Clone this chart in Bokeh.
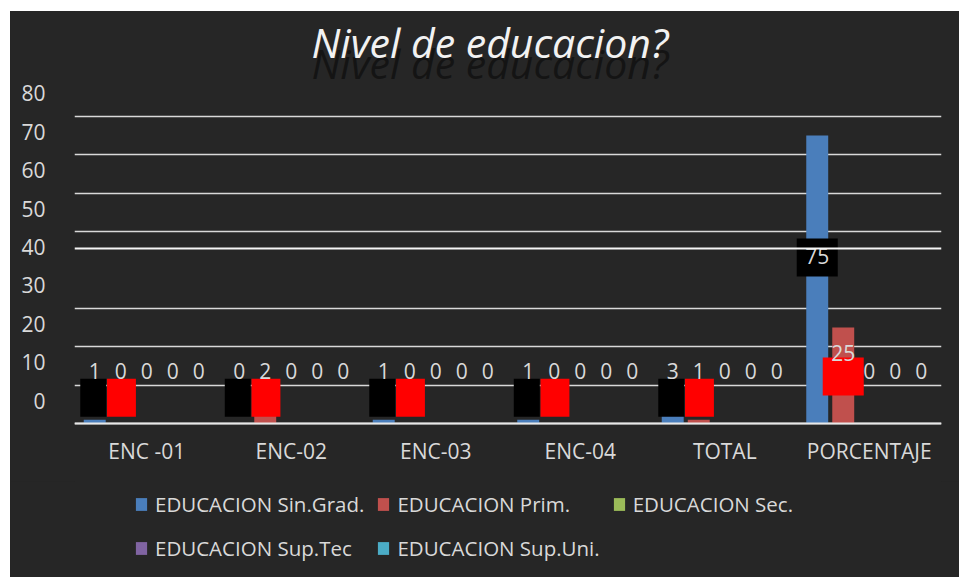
from bokeh.plotting import figure
from bokeh.layouts import column
from bokeh.models import (FactorRange, Range1d, FixedTicker, CustomJSTickFormatter,
                          Legend, LegendItem, ColumnDataSource, Label, Span)
from bokeh.transform import dodge
from bokeh.core.properties import value
from bokeh.embed import file_html
from bokeh.resources import INLINE

# ---------------- data ----------------
categories = ["ENC -01", "ENC-02", "ENC-03", "ENC-04", "TOTAL", "PORCENTAJE"]
series_names = ["EDUCACION Sin.Grad.", "EDUCACION Prim.", "EDUCACION Sec.",
                "EDUCACION Sup.Tec", "EDUCACION Sup.Uni."]
sin_grad = [1, 0, 1, 1, 3, 75]
prim = [0, 2, 0, 0, 1, 25]
sec = [0, 0, 0, 0, 0, 0]
sup_tec = [0, 0, 0, 0, 0, 0]
sup_uni = [0, 0, 0, 0, 0, 0]
y_tick_labels = [0, 10, 20, 30, 40, 50, 60, 70, 80]
grid_values = [0, 10, 20, 30, 50, 60, 70, 80]
title_text = "Nivel de educacion?"

series_values = [sin_grad, prim, sec, sup_tec, sup_uni]

# ---------------- style ----------------
BG = "#262626"
TXT = "#d9d9d9"
FONT = "Open Sans"
colors = ["#4a7ebb", "#c0504d", "#9bbb59", "#8064a2", "#4bacc6"]
offsets = [-0.36, -0.18, 0.0, 0.18, 0.36]
BAR_W = 0.152
LABEL_Y = 13.6          # vertical position of the data labels (value units)
TICK_SHIFT = 6          # the y labels sit above their gridlines in the original

p = figure(x_range=FactorRange(*categories), y_range=Range1d(-0.5, 107.3),
           width=949, height=470, output_backend="svg", toolbar_location=None,
           min_border_left=64, min_border_right=18, min_border_top=0,
           min_border_bottom=56, styles={"background-color": BG})
p.background_fill_color = BG
p.border_fill_color = BG
p.outline_line_color = None

# title and its dark reflection (drawn inside the plotting area)
p.add_layout(Label(x=2.875, y=93.8, text=title_text, text_align="center",
                   text_baseline="middle", text_font=FONT, text_font_style="italic",
                   text_font_size="41px", text_color="#111111", text_alpha=0.85))
p.add_layout(Label(x=2.875, y=99.4, text=title_text, text_align="center",
                   text_baseline="middle", text_font=FONT, text_font_style="italic",
                   text_font_size="41px", text_color="#f2f2f2"))

# grid
p.xgrid.grid_line_color = None
p.ygrid.ticker = FixedTicker(ticks=grid_values)
p.ygrid.grid_line_color = TXT
p.ygrid.grid_line_width = 1.5
p.add_layout(Span(location=45.6, dimension="width", line_color="#f5f5f5", line_width=2))
p.add_layout(Span(location=0, dimension="width", line_color="#e8e8e8", line_width=2))

# y axis
p.yaxis.ticker = FixedTicker(ticks=[v + TICK_SHIFT for v in y_tick_labels])
p.yaxis.formatter = CustomJSTickFormatter(code="return String(Math.round(tick - %d));" % TICK_SHIFT)
p.yaxis.axis_line_color = None
p.yaxis.major_tick_line_color = None
p.yaxis.minor_tick_line_color = None
p.yaxis.major_label_text_color = TXT
p.yaxis.major_label_text_font = FONT
p.yaxis.major_label_text_font_size = "21px"
p.yaxis.major_label_standoff = 23

# x axis
p.xaxis.axis_line_color = None
p.xaxis.major_tick_line_color = None
p.xaxis.minor_tick_line_color = None
p.xaxis.major_label_text_color = TXT
p.xaxis.major_label_text_font = FONT
p.xaxis.major_label_text_font_size = "21px"
p.xaxis.major_label_standoff = 5

# bars
src = ColumnDataSource(dict(cat=categories,
                            **{f"s{i}": v for i, v in enumerate(series_values)}))
for i, (name, col) in enumerate(zip(series_names, colors)):
    p.vbar(x=dodge("cat", offsets[i], range=p.x_range), top=f"s{i}", width=BAR_W,
           source=src, fill_color=col, line_color=None)

# label background boxes (black for the first series, red for the second)
n_enc = len(categories) - 1
box_src = ColumnDataSource(dict(cat=categories[:n_enc]))
p.rect(x=dodge("cat", -0.37, range=p.x_range), y=6.75, width=0.18, height=9.9,
       source=box_src, fill_color="black", line_color=None)
p.rect(x=dodge("cat", -0.175, range=p.x_range), y=6.75, width=0.2, height=9.9,
       source=box_src, fill_color="#ff0000", line_color=None)
last_src = ColumnDataSource(dict(cat=categories[n_enc:]))
p.rect(x=dodge("cat", offsets[0], range=p.x_range), y=43.25, width=0.284, height=9.9,
       source=last_src, fill_color="black", line_color=None)
p.rect(x=dodge("cat", offsets[1], range=p.x_range), y=12.25, width=0.284, height=9.9,
       source=last_src, fill_color="#ff0000", line_color=None)

# data labels
special_label_y = {(0, "PORCENTAJE"): 43.6, (1, "PORCENTAJE"): 18.5}
for i, vals in enumerate(series_values):
    ly = [special_label_y.get((i, c), LABEL_Y) for c in categories]
    lsrc = ColumnDataSource(dict(cat=categories, ly=ly, txt=[str(v) for v in vals]))
    p.text(x=dodge("cat", offsets[i], range=p.x_range), y="ly", text="txt", source=lsrc,
           text_align="center", text_baseline="middle", text_font=value(FONT),
           text_font_size="21px", text_color=TXT)

# ---------------- legend strip ----------------
pl = figure(x_range=Range1d(0, 1), y_range=Range1d(0, 1), width=949, height=96,
            output_backend="svg", toolbar_location=None,
            min_border_left=64, min_border_right=18, min_border_top=0, min_border_bottom=0,
            styles={"background-color": BG})
pl.background_fill_color = BG
pl.border_fill_color = BG
pl.outline_line_color = None
pl.axis.visible = False
pl.grid.visible = False
legend_renderers = []
for name, col in zip(series_names, colors):
    # placeholder glyphs outside the visible range, only used for the legend swatches
    legend_renderers.append(pl.vbar(x=[-5], top=[-5], width=0.1, fill_color=col, line_color=None))

legend = Legend(items=[LegendItem(label=n, renderers=[r]) for n, r in zip(series_names, legend_renderers)],
                orientation="horizontal", ncols=3, location=(60, 13),
                background_fill_alpha=0, border_line_color=None,
                label_text_color=TXT, label_text_font=FONT, label_text_font_size="20.5px",
                glyph_width=14, glyph_height=16, label_standoff=7, spacing=12,
                label_height=32, padding=4, margin=0)
pl.add_layout(legend)

layout = column(p, pl, spacing=0, margin=(11, 0, 0, 10), styles={"background-color": BG})
open("out.html", "w").write(file_html(layout, INLINE))
